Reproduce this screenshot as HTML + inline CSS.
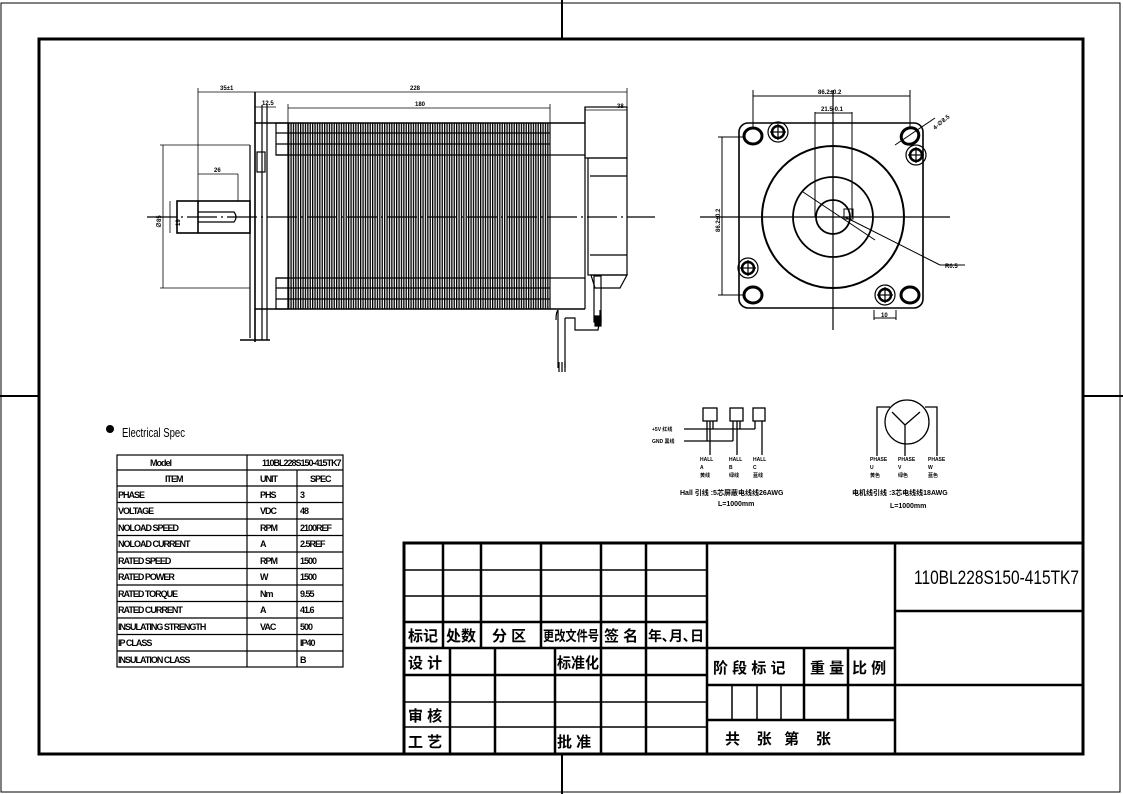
<!DOCTYPE html>
<html><head><meta charset="utf-8"><style>
html,body{margin:0;padding:0;background:#fff;}
svg{display:block;}
text{font-family:"Liberation Sans","Noto Sans CJK SC",sans-serif;fill:#000;}
.cj{font-family:"Liberation Sans","Noto Sans CJK SC",sans-serif;font-weight:bold;font-size:15px;}
.d{font-size:6px;font-weight:bold;}
</style></head><body>
<svg width="1123" height="794" viewBox="0 0 1123 794" xmlns="http://www.w3.org/2000/svg">
<defs>
<pattern id="fin" x="288" y="0" width="2.4" height="10" patternUnits="userSpaceOnUse">
<rect x="0" y="0" width="1.3" height="10" fill="#000"/>
</pattern>
</defs>
<rect x="1" y="3" width="1119" height="789" fill="none" stroke="#000" stroke-width="1"/>
<rect x="39" y="39" width="1044" height="715" fill="none" stroke="#000" stroke-width="3"/>
<g stroke="#000" stroke-width="2">
<line x1="562" y1="0" x2="562" y2="39"/><line x1="562" y1="754" x2="562" y2="794"/>
<line x1="0" y1="396" x2="39" y2="396"/><line x1="1083" y1="396" x2="1123" y2="396"/>
</g>

<!-- SIDE VIEW -->
<g stroke="#000" fill="none" stroke-width="1.2">
<line x1="147" y1="217" x2="655" y2="217" stroke-dasharray="30,4,2,4"/>
<line x1="250" y1="145" x2="250" y2="338"/>
<line x1="255" y1="92" x2="255" y2="342" stroke-width="1.6"/>
<line x1="262" y1="105" x2="262" y2="340"/>
<line x1="267" y1="105" x2="267" y2="340"/>
<rect x="257" y="152" width="8" height="20"/>
<line x1="240" y1="340" x2="270" y2="340" stroke-width="1.6"/>
<line x1="255" y1="123" x2="585" y2="123" stroke-width="1.6"/>
<line x1="255" y1="309" x2="585" y2="309" stroke-width="1.6"/>
<rect x="276" y="123" width="12" height="32"/>
<rect x="276" y="278" width="12" height="31"/>
<line x1="276" y1="133" x2="550" y2="133"/><line x1="276" y1="144" x2="550" y2="144"/><line x1="276" y1="155" x2="585" y2="155"/>
<line x1="276" y1="278" x2="585" y2="278"/><line x1="276" y1="288" x2="550" y2="288"/><line x1="276" y1="299" x2="550" y2="299"/>
<line x1="550" y1="123" x2="550" y2="309"/>
<rect x="585" y="107" width="42" height="51" />
<rect x="588" y="158" width="39" height="117"/>
<line x1="590" y1="176" x2="627" y2="176"/>
<line x1="590" y1="255" x2="627" y2="255"/>
<path d="M591 275 L627 275 L620 288 L595 288 Z"/>
<line x1="585" y1="107" x2="585" y2="309"/>
<path d="M558 310 L558 368 M565 318 L565 368 M558 310 Q556 312 556 320 M565 318 L575 318 L575 330 L598 330 L600 318 L600 310"/>
<rect x="594" y="276" width="7" height="46" />
<rect x="595" y="316" width="6" height="10" fill="#000"/>
<line x1="559" y1="362" x2="559" y2="372"/><line x1="562" y1="362" x2="562" y2="372"/><line x1="565" y1="362" x2="565" y2="372"/>
<rect x="177" y="201" width="73" height="32" stroke-width="1.6"/>
<line x1="198" y1="201" x2="198" y2="233" stroke-width="1.6"/>
<path d="M198 212 L234 212 Q238 217 234 222 L198 222"/>
<g stroke-width="0.8">
<line x1="198" y1="92" x2="627" y2="92"/>
<line x1="198" y1="88" x2="198" y2="201"/>
<line x1="627" y1="88" x2="627" y2="107"/>
<line x1="255" y1="107" x2="276" y2="107"/>
<line x1="288" y1="108" x2="550" y2="108"/>
<line x1="288" y1="104" x2="288" y2="123"/>
<line x1="550" y1="104" x2="550" y2="123"/>
<line x1="585" y1="110" x2="627" y2="110"/>
<line x1="198" y1="174" x2="238" y2="174"/>
<line x1="238" y1="174" x2="238" y2="201"/>
<line x1="163" y1="145" x2="163" y2="288"/>
<line x1="160" y1="145" x2="250" y2="145"/>
<line x1="160" y1="288" x2="250" y2="288"/>
<line x1="170" y1="201" x2="170" y2="233"/>
</g>
</g>
<rect x="288" y="123" width="262" height="186" fill="url(#fin)"/>
<line x1="288" y1="123" x2="288" y2="309" stroke="#000" stroke-width="1.2"/>
<g class="d">
<text x="220" y="90" class="d">35±1</text>
<text x="410" y="90" class="d">228</text>
<text x="262" y="105" class="d">12.5</text>
<text x="415" y="106" class="d">180</text>
<text x="617" y="108" class="d">38</text>
<text x="214" y="172" class="d">26</text>
<text x="0" y="0" class="d" transform="translate(161,228) rotate(-90)">∅85</text>
<text x="0" y="0" class="d" transform="translate(180,226) rotate(-90)">19</text>
</g>

<!-- FRONT VIEW -->
<g stroke="#000" fill="none" stroke-width="1.6">
<rect x="739" y="123" width="184" height="185" rx="9"/>
<circle cx="833" cy="217" r="71" stroke-width="2"/>
<circle cx="833" cy="217" r="40" stroke-width="1.8"/>
<circle cx="833" cy="217" r="17" stroke-width="1.8"/>
<rect x="844" y="209" width="9" height="10" stroke-width="1"/>
<ellipse cx="753" cy="136" rx="9" ry="8" stroke-width="3"/>
<ellipse cx="910" cy="136" rx="9" ry="8" stroke-width="3" transform="rotate(-30 910 136)"/>
<ellipse cx="753" cy="295" rx="9" ry="8" stroke-width="3"/>
<ellipse cx="910" cy="295" rx="9" ry="8" stroke-width="3"/>
<g stroke-width="1.2">
<circle cx="778" cy="132" r="10"/><circle cx="778" cy="132" r="6" stroke-width="2.5"/>
<circle cx="916" cy="155" r="10"/><circle cx="916" cy="155" r="6" stroke-width="2.5"/>
<circle cx="748" cy="268" r="10"/><circle cx="748" cy="268" r="6" stroke-width="2.5"/>
<circle cx="885" cy="295" r="10"/><circle cx="885" cy="295" r="6" stroke-width="2.5"/>
<line x1="770" y1="132" x2="786" y2="132"/><line x1="778" y1="124" x2="778" y2="140"/>
<line x1="908" y1="155" x2="924" y2="155"/><line x1="916" y1="147" x2="916" y2="163"/>
<line x1="740" y1="268" x2="756" y2="268"/><line x1="748" y1="260" x2="748" y2="276"/>
<line x1="877" y1="295" x2="893" y2="295"/><line x1="885" y1="287" x2="885" y2="303"/>
</g>
<g stroke-width="1">
<line x1="815" y1="112" x2="815" y2="217"/>
<line x1="852" y1="112" x2="852" y2="217"/>
<line x1="700" y1="217" x2="950" y2="217" stroke-width="1.2"/>
<line x1="833" y1="90" x2="833" y2="330" stroke-width="1.2"/>
<line x1="753" y1="96" x2="910" y2="96"/>
<line x1="753" y1="90" x2="753" y2="128"/>
<line x1="910" y1="90" x2="910" y2="128"/>
<line x1="815" y1="113" x2="852" y2="113"/>
<line x1="722" y1="137" x2="722" y2="295"/>
<line x1="718" y1="137" x2="745" y2="137"/>
<line x1="718" y1="295" x2="745" y2="295"/>
<line x1="803" y1="192" x2="875" y2="240"/>
<line x1="845" y1="217" x2="940" y2="265"/><line x1="940" y1="265" x2="965" y2="265"/>
<line x1="895" y1="145" x2="935" y2="118"/>
<line x1="874" y1="310" x2="874" y2="320"/><line x1="896" y1="310" x2="896" y2="320"/>
<line x1="874" y1="318" x2="896" y2="318"/>
</g>
</g>
<g class="d">
<text x="818" y="94" class="d">86.2±0.2</text>
<text x="821" y="111" class="d">21.5-0.1</text>
<text x="0" y="0" class="d" transform="translate(720,232) rotate(-90)">86.2±0.2</text>
<text x="945" y="268" class="d">R0.5</text>
<text x="0" y="0" class="d" transform="translate(935,130) rotate(-40)">4-∅8.5</text>
<text x="881" y="317" class="d">10</text>
</g>

<!-- Electrical spec -->
<circle cx="110" cy="429" r="4" fill="#000"/>
<text x="122" y="437" font-size="13" textLength="63" lengthAdjust="spacingAndGlyphs">Electrical Spec</text>
<g stroke="#000" stroke-width="1.2" fill="none">
<rect x="117" y="455" width="226" height="212"/>
<line x1="247" y1="455" x2="247" y2="667"/>
<line x1="297" y1="470" x2="297" y2="667"/>
<line x1="117" y1="470" x2="343" y2="470"/>
<line x1="117" y1="486" x2="343" y2="486"/>
<line x1="117" y1="502.5" x2="343" y2="502.5"/>
<line x1="117" y1="519" x2="343" y2="519"/>
<line x1="117" y1="535.5" x2="343" y2="535.5"/>
<line x1="117" y1="552" x2="343" y2="552"/>
<line x1="117" y1="568.5" x2="343" y2="568.5"/>
<line x1="117" y1="585" x2="343" y2="585"/>
<line x1="117" y1="601.5" x2="343" y2="601.5"/>
<line x1="117" y1="618" x2="343" y2="618"/>
<line x1="117" y1="634.5" x2="343" y2="634.5"/>
<line x1="117" y1="651" x2="343" y2="651"/>
</g>
<g font-size="9" style="letter-spacing:-1px" font-weight="bold">
<text x="150" y="466">Model</text><text x="262" y="466">110BL228S150-415TK7</text>
<text x="165" y="482">ITEM</text><text x="260" y="482">UNIT</text><text x="310" y="482">SPEC</text>
<text x="118" y="498">PHASE</text><text x="260" y="498">PHS</text><text x="300" y="498">3</text>
<text x="118" y="514">VOLTAGE</text><text x="260" y="514">VDC</text><text x="300" y="514">48</text>
<text x="118" y="531">NOLOAD SPEED</text><text x="260" y="531">RPM</text><text x="300" y="531">2100REF</text>
<text x="118" y="547">NOLOAD CURRENT</text><text x="260" y="547">A</text><text x="300" y="547">2.5REF</text>
<text x="118" y="564">RATED SPEED</text><text x="260" y="564">RPM</text><text x="300" y="564">1500</text>
<text x="118" y="580">RATED POWER</text><text x="260" y="580">W</text><text x="300" y="580">1500</text>
<text x="118" y="597">RATED TORQUE</text><text x="260" y="597">Nm</text><text x="300" y="597">9.55</text>
<text x="118" y="613">RATED CURRENT</text><text x="260" y="613">A</text><text x="300" y="613">41.6</text>
<text x="118" y="630">INSULATING STRENGTH</text><text x="260" y="630">VAC</text><text x="300" y="630">500</text>
<text x="118" y="646">IP CLASS</text><text x="300" y="646">IP40</text>
<text x="118" y="663">INSULATION CLASS</text><text x="300" y="663">B</text>
</g>

<!-- Hall schematic -->
<g stroke="#000" fill="none" stroke-width="1.3">
<rect x="703" y="408" width="14" height="13"/>
<rect x="730" y="408" width="13" height="13"/>
<rect x="753" y="408" width="12" height="13"/>
<line x1="684" y1="429" x2="755" y2="429"/>
<line x1="684" y1="441" x2="733" y2="441"/>
<line x1="707" y1="421" x2="707" y2="441"/><line x1="710" y1="421" x2="710" y2="455"/><line x1="713" y1="421" x2="713" y2="429"/>
<line x1="733" y1="421" x2="733" y2="441"/><line x1="737" y1="421" x2="737" y2="455"/><line x1="740" y1="421" x2="740" y2="429"/>
<line x1="755" y1="421" x2="755" y2="429"/><line x1="762" y1="421" x2="762" y2="455"/>
<circle cx="907" cy="422" r="22"/>
<path d="M877 456 L877 407 L890 407 M937 456 L937 407 L925 407 M905 456 L905 440 L905 425 M905 425 L892 412 M905 425 L920 412" />
</g>
<g font-size="5" font-weight="bold">
<text x="652" y="431">+5V 红线</text><text x="652" y="443">GND 黑线</text>
<text x="700" y="461">HALL</text><text x="700" y="469">A</text><text x="700" y="477">黄线</text>
<text x="729" y="461">HALL</text><text x="729" y="469">B</text><text x="729" y="477">绿线</text>
<text x="753" y="461">HALL</text><text x="753" y="469">C</text><text x="753" y="477">蓝线</text>
<text x="870" y="461">PHASE</text><text x="870" y="469">U</text><text x="870" y="477">黄色</text>
<text x="898" y="461">PHASE</text><text x="898" y="469">V</text><text x="898" y="477">绿色</text>
<text x="928" y="461">PHASE</text><text x="928" y="469">W</text><text x="928" y="477">蓝色</text>
</g>
<g font-size="7" font-weight="bold">
<text x="680" y="495">Hall 引线 :5芯屏蔽电线线26AWG</text>
<text x="718" y="506">L=1000mm</text>
<text x="852" y="495">电机线引线 :3芯电线线18AWG</text>
<text x="890" y="508">L=1000mm</text>
</g>

<!-- TITLE BLOCK -->
<g stroke="#000" fill="none">
<rect x="404" y="543" width="679" height="211" stroke-width="3"/>
<g stroke-width="2.5">
<line x1="707" y1="543" x2="707" y2="754"/>
<line x1="895" y1="543" x2="895" y2="754"/>
<line x1="404" y1="648" x2="707" y2="648"/>
<line x1="404" y1="675" x2="707" y2="675"/>
<line x1="707" y1="648" x2="895" y2="648"/>
<line x1="707" y1="685" x2="1083" y2="685"/>
<line x1="707" y1="720" x2="895" y2="720"/>
<line x1="895" y1="611" x2="1083" y2="611"/>
<line x1="404" y1="622" x2="707" y2="622"/>
</g>
<g stroke-width="1.5">
<line x1="404" y1="570" x2="707" y2="570"/>
<line x1="404" y1="596" x2="707" y2="596"/>
<line x1="404" y1="702" x2="707" y2="702"/>
<line x1="404" y1="727" x2="707" y2="727"/>
</g>
<g stroke-width="2.5">
<line x1="443" y1="543" x2="443" y2="648"/>
<line x1="481" y1="543" x2="481" y2="648"/>
<line x1="541" y1="543" x2="541" y2="648"/>
<line x1="601" y1="543" x2="601" y2="754"/>
<line x1="646" y1="543" x2="646" y2="754"/>
<line x1="450" y1="648" x2="450" y2="754"/>
<line x1="495" y1="648" x2="495" y2="754"/>
<line x1="555" y1="648" x2="555" y2="754"/>
<line x1="804" y1="648" x2="804" y2="720"/>
<line x1="848" y1="648" x2="848" y2="720"/>
</g>
<g stroke-width="1.5">
<line x1="732" y1="685" x2="732" y2="720"/>
<line x1="757" y1="685" x2="757" y2="720"/>
<line x1="781" y1="685" x2="781" y2="720"/>
</g>
</g>
<g class="cj">
<text x="408" y="641">标记</text>
<text x="446" y="641">处数</text>
<text x="492" y="641">分 区</text>
<text x="543" y="641" font-size="14" textLength="56" lengthAdjust="spacingAndGlyphs">更改文件号</text>
<text x="604" y="641">签 名</text>
<text x="648" y="641" font-size="14" textLength="56" lengthAdjust="spacingAndGlyphs">年､月､日</text>
<text x="408" y="668">设 计</text>
<text x="557" y="668" textLength="42" lengthAdjust="spacingAndGlyphs">标准化</text>
<text x="408" y="721">审 核</text>
<text x="408" y="747">工 艺</text>
<text x="557" y="747">批 准</text>
<text x="713" y="673">阶 段 标 记</text>
<text x="810" y="673">重 量</text>
<text x="852" y="673">比 例</text>
<text x="725" y="744">共 &#160;&#160;&#160;张 &#160;&#160;第 &#160;&#160;&#160;张</text>
</g>
<text x="914" y="584" font-size="19" textLength="165" lengthAdjust="spacingAndGlyphs">110BL228S150-415TK7</text>
</svg>
</body></html>
